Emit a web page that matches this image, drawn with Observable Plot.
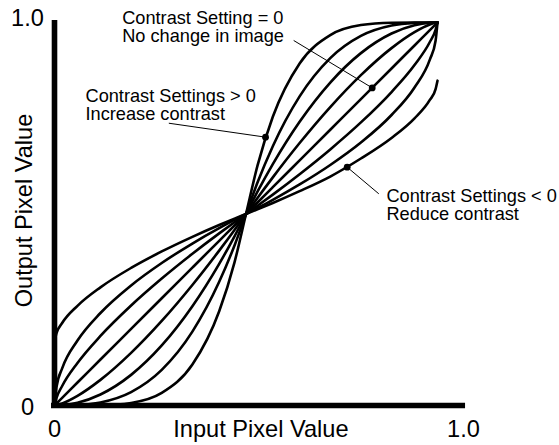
<!DOCTYPE html>
<html><head><meta charset="utf-8">
<script src="https://cdn.jsdelivr.net/npm/d3@7"></script>
<script src="https://cdn.jsdelivr.net/npm/@observablehq/plot@0.6"></script>
<style>body{margin:0;background:#fff} svg{display:block}</style>
</head><body><div id="chart"></div>
<script>
// Input pixel positions at which the curves were read
const inputX = [0,0.00468,0.01873,0.05619,0.11237,0.18729,0.26220,0.33711,0.40266,0.44012,0.46822,0.49631,0.53377,0.59932,0.67423,0.74914,0.82406,0.88024,0.91770,0.93175,0.93643];

// Output pixel values of each contrast curve at inputX
const reduceStrong = [0.16613,0.18702,0.21418,0.25895,0.30690,0.35734,0.40011,0.43811,0.46875,0.48537,0.49741,0.50944,0.52606,0.55670,0.59470,0.6415,0.6949,0.7458,0.7936,0.8218,0.8437];
const reduceMid    = [0,0.04755,0.09640,0.16872,0.24025,0.31177,0.37007,0.42071,0.46060,0.48189,0.49741,0.51292,0.53421,0.57410,0.62474,0.68304,0.75456,0.82609,0.89841,0.94726,0.99481];
const reduceLight  = [0,0.01890,0.05064,0.11042,0.18056,0.25955,0.32958,0.39394,0.44697,0.47602,0.49741,0.51879,0.54784,0.60087,0.66523,0.73526,0.81425,0.88439,0.94417,0.97591,0.99481];
const zeroSetting  = [0,0.00497,0.01990,0.05969,0.11938,0.19896,0.27855,0.35813,0.42777,0.46756,0.49741,0.52725,0.56704,0.63668,0.71626,0.79585,0.87543,0.93512,0.97491,0.98984,0.99481];
const increase1    = [0,0.00080,0.00527,0.02507,0.06655,0.13669,0.21965,0.31307,0.40220,0.45582,0.49741,0.53899,0.59261,0.68174,0.77516,0.85812,0.92826,0.96974,0.98954,0.99401,0.99481];
const increase2    = [0,0.00005,0.00080,0.00716,0.02865,0.07958,0.15599,0.25785,0.36788,0.43951,0.49741,0.55530,0.62693,0.73696,0.83882,0.91523,0.96616,0.98765,0.99401,0.99476,0.99481];
const increase3    = [0,0,0.00004,0.00109,0.00796,0.03492,0.09262,0.19190,0.32122,0.41573,0.49741,0.57908,0.67359,0.80291,0.90219,0.95989,0.98685,0.99372,0.99477,0.99481,0.99481];
const increase4    = [0,0,0,0,0.00060,0.00667,0.03263,0.10625,0.24482,0.37196,0.49741,0.62285,0.74999,0.88856,0.96218,0.98814,0.99421,0.99481,0.99481,0.99481,0.99481];

const curveNames = ["reduceStrong","reduceMid","reduceLight","zeroSetting","increase1","increase2","increase3","increase4"];
const curveSeries = [reduceStrong,reduceMid,reduceLight,zeroSetting,increase1,increase2,increase3,increase4];

// Marked points on curves and the other ends of their leader lines
const markerX = [0.7768, 0.5160, 0.7156];
const markerY = [0.8250, 0.6970, 0.6190];
const leaderX = [0.5848, 0.2795, 0.7929];
const leaderY = [0.9481, 0.7332, 0.5499];

// Annotations (y = baseline of the last line)
const noteText = ["Contrast Setting = 0\nNo change in image","Contrast Settings > 0\nIncrease contrast","Contrast Settings < 0\nReduce contrast"];
const noteX = [0.1655,0.0758,0.8117];
const noteY = [0.9436,0.7421,0.4818];

// Axis labels
const xTickLabels = ["0","1.0"];
const xTickValues = [0,1];
const yTickLabels = ["0","1.0"];
const yTickValues = [-0.0234,0.987];
const xTitle = "Input Pixel Value";
const yTitle = "Output Pixel Value";

const rows = curveNames.flatMap((name, i) => curveSeries[i].map((y, j) => ({name, x: inputX[j], y})));
const markers = markerX.map((x, i) => ({x, y: markerY[i], lx: leaderX[i], ly: leaderY[i]}));
const notes = noteText.map((t, i) => ({t, x: noteX[i], y: noteY[i]}));

const font = "'Liberation Sans', Arial, Helvetica, sans-serif";

const chart = Plot.plot({
  width: 559, height: 445,
  marginLeft: 54, marginRight: 96, marginTop: 20, marginBottom: 40,
  x: {domain: [0, 1], axis: null},
  y: {domain: [0, 1], axis: null},
  style: {fontFamily: font, background: "#fff", color: "#000"},
  marks: [
    Plot.line(rows, {x: "x", y: "y", z: "name", curve: "monotone-x", stroke: "#000", strokeWidth: 2.6}),
    Plot.link(markers, {x1: "x", y1: "y", x2: "lx", y2: "ly", stroke: "#000", strokeWidth: 1}),
    Plot.dot(markers, {x: "x", y: "y", r: 3.4, fill: "#000", stroke: "none"}),
    Plot.ruleX([0], {y1: 0, y2: 1, stroke: "#000", strokeWidth: 5.6}),
    Plot.ruleY([0], {x1: -0.0073, x2: 1.005, stroke: "#000", strokeWidth: 5.6}),
    Plot.text(notes, {x: "x", y: "y", text: "t", textAnchor: "start", lineAnchor: "bottom", lineHeight: 1.0, fontSize: 18.2, fill: "#000"}),
    Plot.text(xTickLabels, {x: (d, i) => xTickValues[i], y: -0.0831, text: d => d, textAnchor: "middle", lineAnchor: "bottom", fontSize: 23.6, fill: "#000"}),
    Plot.text(yTickLabels, {x: -0.066, y: (d, i) => yTickValues[i], text: d => d, textAnchor: "middle", lineAnchor: "bottom", fontSize: 23.6, fill: "#000"}),
    Plot.text([xTitle], {x: 0.5046, y: -0.0831, text: d => d, textAnchor: "middle", lineAnchor: "bottom", fontSize: 23.6, fill: "#000"}),
    Plot.text([yTitle], {x: -0.0538, y: 0.5065, text: d => d, rotate: -90, textAnchor: "middle", lineAnchor: "bottom", fontSize: 23.6, fill: "#000"})
  ]
});
document.getElementById("chart").appendChild(chart);
</script>
</body></html>
